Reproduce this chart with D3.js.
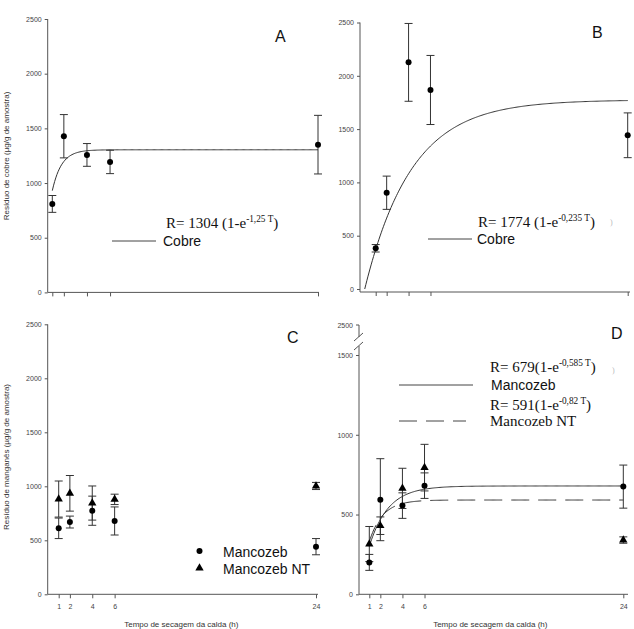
<!DOCTYPE html>
<html><head><meta charset="utf-8">
<script src="https://cdn.jsdelivr.net/npm/d3@7"></script>
<style>body{margin:0;background:#fff}svg{display:block}</style>
</head><body>
<svg id="c" width="634" height="629"></svg>
<script>
// ---- data ----
const times = [1, 2, 4, 6, 24];
const yTicks = [0, 500, 1000, 1500, 2000, 2500];
const yTicksD = [0, 500, 1000, 1500];
const cobreA = [809, 1428, 1257, 1193, 1351];
const cobreAErr = [77, 198, 104, 107, 268];
const cobreB = [382, 903, 2126, 1867, 1442];
const cobreBErr = [35, 156, 365, 324, 210];
const mancC = [611, 669, 774, 679, 441];
const mancCErr = [95, 55, 135, 130, 75];
const mancNTC = [882, 935, 845, 879, 1003];
const mancNTCErr = [167, 165, 158, 48, 33];
const mancD = [200, 593, 556, 681, 675];
const mancDErr = [50, 257, 80, 80, 135];
const mancNTD = [315, 430, 664, 794, 340];
const mancNTDErr = [110, 55, 126, 146, 20];
const fitA = {a: 1304, k: 1.25, t0: 1};
const fitB = {a: 1774, k: 0.235, t0: 0};
const fitDM = {a: 679, k: 0.585, t0: 1};
const fitDNT = {a: 591, k: 0.82, t0: 1};

const svg = d3.select("#c");
const AX = "#555", INK = "#222";

function panel(p) {
  const g = svg.append("g");
  const x = d3.scaleLinear().domain([1, 24]).range(p.xr);
  const y = d3.scaleLinear().domain([0, p.ymax]).range(p.yr);
  // axes lines
  if (p.brk) {
    g.append("line").attr("x1", p.yx).attr("x2", p.yx).attr("y1", 325).attr("y2", 337).attr("stroke", AX);
    g.append("line").attr("x1", p.yx).attr("x2", p.yx).attr("y1", 346).attr("y2", p.xy).attr("stroke", AX);
    g.append("line").attr("x1", p.yx - 5).attr("y1", 341).attr("x2", p.yx + 4).attr("y2", 333).attr("stroke", AX);
    g.append("line").attr("x1", p.yx - 5).attr("y1", 350).attr("x2", p.yx + 4).attr("y2", 342).attr("stroke", AX);
    g.append("line").attr("x1", p.yx - 3).attr("x2", p.yx).attr("y1", 325).attr("y2", 325).attr("stroke", AX);
    g.append("text").attr("x", p.yx - 6).attr("y", 327.5).attr("text-anchor", "end")
      .attr("font-family", "Liberation Sans, Arial, sans-serif").attr("font-size", 7).attr("fill", "#444").text("2500");
  } else {
    g.append("line").attr("x1", p.yx).attr("x2", p.yx).attr("y1", y(p.ymax)).attr("y2", p.xy).attr("stroke", AX);
  }
  g.append("line").attr("x1", p.yx).attr("x2", p.xend).attr("y1", p.xy).attr("y2", p.xy).attr("stroke", AX);
  // y axis ticks
  const ya = g.append("g").attr("transform", `translate(${p.yx},0)`)
    .call(d3.axisLeft(y).tickValues(p.yt).tickSize(3).tickSizeOuter(0).tickPadding(3).tickFormat(d3.format("d")));
  ya.select(".domain").remove();
  ya.selectAll("line").attr("stroke", AX);
  ya.selectAll("text").attr("font-family", "Liberation Sans, Arial, sans-serif").attr("font-size", 7).attr("fill", "#444");
  // x axis ticks
  const xa = g.append("g").attr("transform", `translate(0,${p.xy})`)
    .call(d3.axisBottom(x).tickValues(times).tickSize(4).tickSizeOuter(0).tickPadding(6)
      .tickFormat(p.xlabels ? d3.format("d") : () => ""));
  xa.select(".domain").remove();
  xa.selectAll("line").attr("stroke", AX);
  xa.selectAll("text").attr("font-family", "Liberation Sans, Arial, sans-serif").attr("font-size", 7).attr("fill", "#444");
  if (p.xtitle) {
    g.append("text").attr("x", (p.xr[0] + p.xr[1]) / 2 - 6).attr("y", 626.5).attr("text-anchor", "middle")
      .attr("font-family", "Liberation Sans, Arial, sans-serif").attr("font-size", 8).attr("fill", "#333")
      .text("Tempo de secagem da calda (h)");
  }
  if (p.ytitle) {
    g.append("text").attr("transform", `translate(9,${p.ytitleY}) rotate(-90)`).attr("text-anchor", "middle")
      .attr("font-family", "Liberation Sans, Arial, sans-serif").attr("font-size", 8).attr("fill", "#333")
      .text(p.ytitle);
  }
  g.append("text").attr("x", p.lab[0]).attr("y", p.lab[1]).attr("font-family", "Liberation Sans, Arial, sans-serif")
    .attr("font-size", 16).attr("fill", "#111").text(p.label);
  // curves
  (p.fits || []).forEach(f => {
    const pts = d3.range(f.fit.t0, 24.001, 0.1).map(t => [t, f.fit.a * (1 - Math.exp(-f.fit.k * t))]);
    g.append("path").attr("d", d3.line().x(d => x(d[0])).y(d => y(d[1]))(pts))
      .attr("fill", "none").attr("stroke", "#333").attr("stroke-width", 1)
      .attr("stroke-dasharray", f.dash || null);
  });
  // series
  p.series.forEach(s => {
    s.v.forEach((v, i) => {
      const cx = x(times[i]), e = s.e[i];
      g.append("line").attr("x1", cx).attr("x2", cx).attr("y1", y(v - e)).attr("y2", y(v + e)).attr("stroke", "#333");
      [v - e, v + e].forEach(c => g.append("line").attr("x1", cx - 4).attr("x2", cx + 4)
        .attr("y1", y(c)).attr("y2", y(c)).attr("stroke", "#333"));
    });
  });
  p.series.forEach(s => {
    s.v.forEach((v, i) => {
      const cx = x(times[i]), cy = y(v);
      if (s.shape === "tri") {
        g.append("path").attr("d", d3.symbol(d3.symbolTriangle, 30)()).attr("transform", `translate(${cx},${cy})`).attr("fill", "#000");
      } else {
        g.append("circle").attr("cx", cx).attr("cy", cy).attr("r", 3).attr("fill", "#000");
      }
    });
  });
  return g;
}

function eq(g, x0, y0, coef, expo, size, sep) {
  const t = g.append("text").attr("x", x0).attr("y", y0)
    .attr("font-family", "Liberation Serif, Times New Roman, serif").attr("font-size", size).attr("fill", "#111");
  t.append("tspan").text(`R= ${coef}${sep}(1-e`);
  t.append("tspan").attr("dy", -6).attr("font-size", size * 0.62).text(expo);
  t.append("tspan").attr("dy", 6).text(")");
}
function legLine(g, x1, x2, yy, dash) {
  g.append("line").attr("x1", x1).attr("x2", x2).attr("y1", yy).attr("y2", yy)
    .attr("stroke", "#444").attr("stroke-width", 1).attr("stroke-dasharray", dash || null);
}
function txt(g, x0, y0, s, size, fam) {
  g.append("text").attr("x", x0).attr("y", y0).attr("font-family", fam || "Liberation Sans, Arial, sans-serif")
    .attr("font-size", size).attr("fill", "#111").text(s);
}

// Panel A
const gA = panel({xr: [52.3, 318], yr: [292.4, 19], ymax: 2500, yx: 47.7, xy: 292.4, xend: 319, yt: yTicks,
  label: "A", lab: [275, 42], ytitle: "Resíduo de cobre (µg/g de amostra)", ytitleY: 156,
  fits: [{fit: fitA}], series: [{v: cobreA, e: cobreAErr, shape: "circle"}]});
eq(gA, 166, 228, "1304", "-1,25 T", 15, " ");
legLine(gA, 112, 156, 241);
txt(gA, 163, 246, "Cobre", 14);

// Panel B
const gB = panel({xr: [375.7, 627.7], yr: [289, 22.5], ymax: 2500, yx: 360, xy: 292, xend: 630, yt: yTicks,
  label: "B", lab: [592, 38], fits: [{fit: fitB}], series: [{v: cobreB, e: cobreBErr, shape: "circle"}]});
eq(gB, 478, 227, "1774", "-0,235 T", 15, " ");
legLine(gB, 428, 472, 239);
txt(gB, 477, 244, "Cobre", 14);
gB.append("text").attr("x", 610).attr("y", 225).attr("font-size", 8).attr("fill", "#bbb").text(")");

// Panel C
const gC = panel({xr: [58.7, 316], yr: [594.3, 324.3], ymax: 2500, yx: 47.7, xy: 594.3, xend: 318, yt: yTicks,
  xlabels: true, xtitle: true, label: "C", lab: [287, 343], ytitle: "Resíduo de manganês (µg/g de amostra)", ytitleY: 457,
  series: [{v: mancNTC, e: mancNTCErr, shape: "tri"}, {v: mancC, e: mancCErr, shape: "circle"}]});
gC.append("circle").attr("cx", 199.5).attr("cy", 551).attr("r", 3).attr("fill", "#000");
gC.append("path").attr("d", d3.symbol(d3.symbolTriangle, 30)()).attr("transform", "translate(199.5,568)").attr("fill", "#000");
txt(gC, 223, 557, "Mancozeb", 14);
txt(gC, 223, 574, "Mancozeb NT", 14);

// Panel D
const gD = panel({xr: [369.3, 623.3], yr: [594.3, 355], ymax: 1500, yx: 359, xy: 594.3, xend: 628, yt: yTicksD, brk: true,
  xlabels: true, xtitle: true, label: "D", lab: [611, 339],
  fits: [{fit: fitDM}, {fit: fitDNT, dash: "18,9"}],
  series: [{v: mancNTD, e: mancNTDErr, shape: "tri"}, {v: mancD, e: mancDErr, shape: "circle"}]});
eq(gD, 490, 372, "679", "-0,585 T", 15, "");
legLine(gD, 399, 473, 385);
txt(gD, 491, 390, "Mancozeb", 14);
eq(gD, 490, 410, "591", "-0,82 T", 15, "");
legLine(gD, 399, 466, 421, "18,9");
txt(gD, 490, 426, "Mancozeb NT", 15, "Liberation Serif, Times New Roman, serif");
gD.append("text").attr("x", 612).attr("y", 373).attr("font-size", 8).attr("fill", "#bbb").text(")");
</script>
</body></html>
